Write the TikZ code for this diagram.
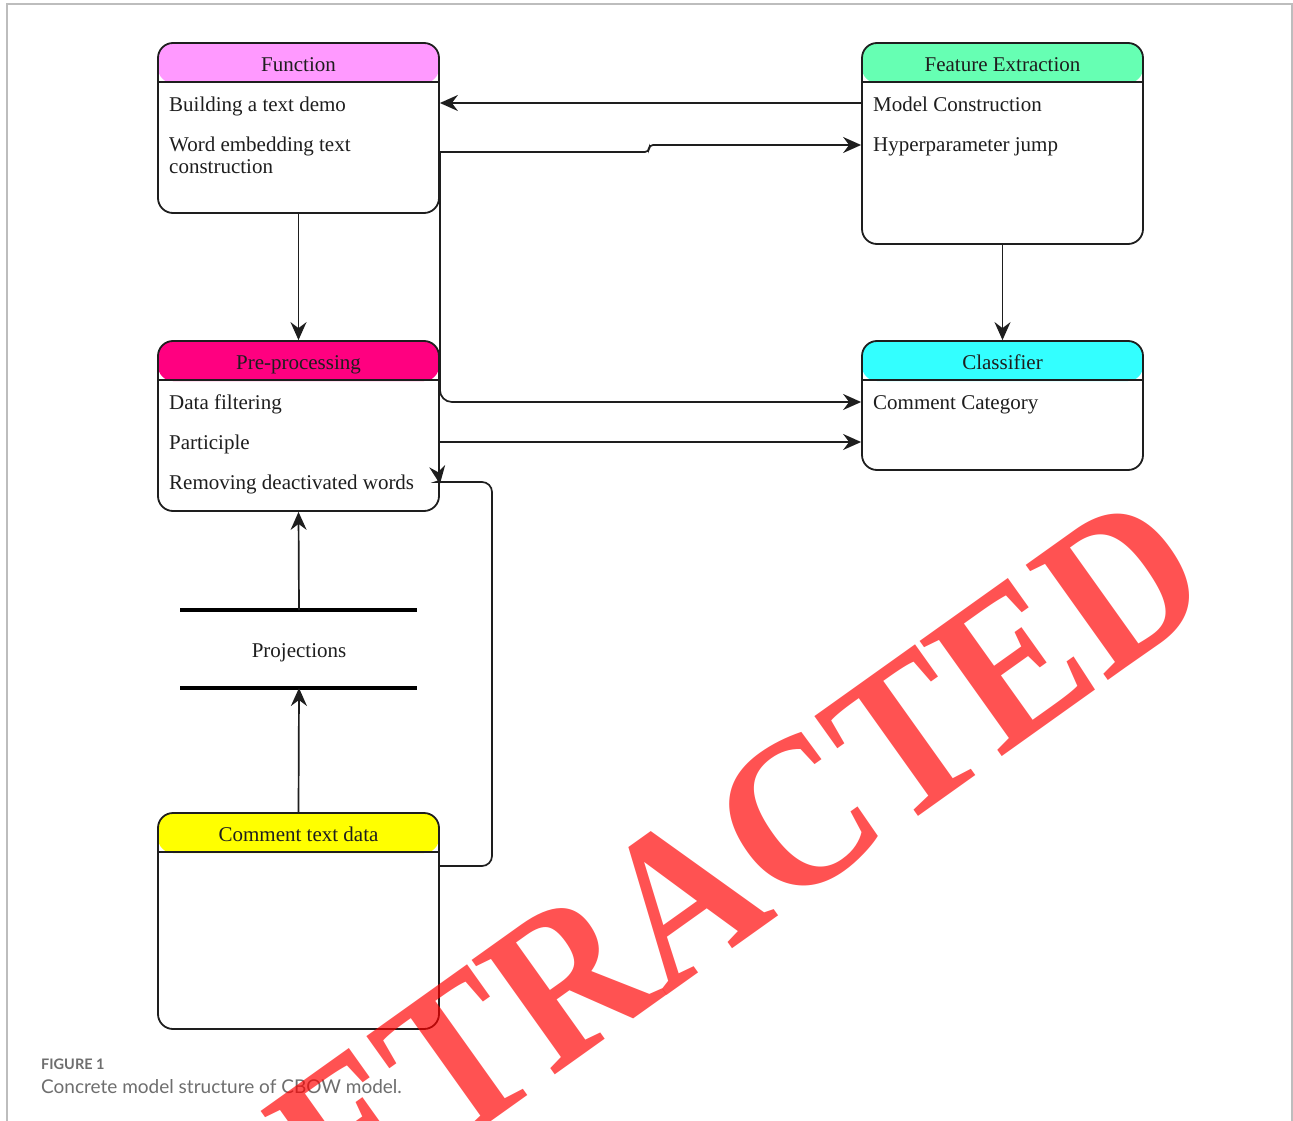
\documentclass[tikz,border=0pt]{standalone}
\usepackage{fontspec}
\setmainfont{Liberation Serif}
\newfontfamily\capfont{Lato}
\usetikzlibrary{arrows.meta}
\definecolor{fnpink}{HTML}{FF99FF}
\definecolor{fegreen}{HTML}{66FFB3}
\definecolor{ppmagenta}{HTML}{FF0080}
\definecolor{clcyan}{HTML}{33FFFF}
\definecolor{ctdyellow}{HTML}{FFFF00}
\definecolor{capgray}{HTML}{6E6E6E}
\definecolor{framegray}{HTML}{BDBDBD}
\definecolor{stampred}{HTML}{FF0000}
\definecolor{ink}{HTML}{1E1E1E}
\begin{document}
\begin{tikzpicture}[x=1pt,y=-1pt,
  every node/.style={font=\fontsize{21}{21.7}\selectfont, inner sep=0pt, text=ink},
  box/.style={draw=ink, line width=1.8pt, rounded corners=15pt, minimum width=281pt},
  head/.style={path picture={\fill[#1] (path picture bounding box.north west) rectangle ([yshift=-40pt]path picture bounding box.north east);}},
  title/.style={anchor=base},
  row/.style={anchor=base west, align=left},
  flow/.style={draw=ink, line width=1.7pt, -{Stealth[length=18pt,width=16pt,inset=6pt]}},
  bar/.style={line width=3.2pt},
  stamp/.style={font=\fontsize{216}{216}\selectfont\bfseries, text=stampred, text opacity=0.68}]
 \clip (0,0) rectangle (1293,1121);
 \fill[white] (0,0) rectangle (1293,1121);
 \draw[framegray, line width=1.5pt] (7,1121) -- (7,4) -- (1292,4) -- (1292,1121);
 \node[box, head=fnpink, minimum height=170pt] (fn) at (298.5,128) {};
 \node[box, head=fegreen, minimum height=201pt] (fe) at (1002.5,143.5) {};
 \node[box, head=ppmagenta, minimum height=170pt] (pp) at (298.5,426) {};
 \node[box, head=clcyan, minimum height=129pt] (cl) at (1002.5,405.5) {};
 \node[box, head=ctdyellow, minimum height=216pt] (ctd) at (298.5,921) {};
 \draw[ink, line width=1.6pt] ([yshift=-40pt]fn.north west) -- ([yshift=-40pt]fn.north east);
 \draw[ink, line width=1.6pt] ([yshift=-40pt]fe.north west) -- ([yshift=-40pt]fe.north east);
 \draw[ink, line width=1.6pt] ([yshift=-40pt]pp.north west) -- ([yshift=-40pt]pp.north east);
 \draw[ink, line width=1.6pt] ([yshift=-40pt]cl.north west) -- ([yshift=-40pt]cl.north east);
 \draw[ink, line width=1.6pt] ([yshift=-40pt]ctd.north west) -- ([yshift=-40pt]ctd.north east);
 \node[title] (fnt) at (298.5,71.7) {Function};
 \node[title] (fet) at (1002.5,71.7) {Feature Extraction};
 \node[title] (ppt) at (298.5,369.5) {Pre-processing};
 \node[title] (clt) at (1002.5,369.5) {Classifier};
 \node[title] (ctdt) at (298.5,841.5) {Comment text data};
 \node[row] (fn1) at (169,111.7) {Building a text demo};
 \node[row] (fn2) at (169,173.4) {Word embedding text\\construction};
 \node[row] (fe1) at (873,111.7) {Model Construction};
 \node[row] (fe2) at (873,151.7) {Hyperparameter jump};
 \node[row] (pp1) at (169,409.7) {Data filtering};
 \node[row] (pp2) at (169,449.7) {Participle};
 \node[row] (pp3) at (169,489.7) {Removing deactivated words};
 \node[row] (cl1) at (873,409.7) {Comment Category};
 \node[title] (proj) at (299,657.3) {Projections};
 \coordinate (pjt) at (299,610);
 \coordinate (pjb) at (299,688);
 \draw[bar] (180,610) -- (417,610);
 \draw[bar] (180,688) -- (417,688);
 \draw[flow] (fe.west |- 0,103) -- (fn.east |- 0,103);
 \draw[flow, rounded corners=4pt] (fn.east |- 0,152) -- (649,152) -- (649,145) -- (fe.west |- 0,145);
 \draw[flow] (fn.south) -- (pp.north);
 \draw[flow] (fe.south) -- (cl.north);
 \draw[flow, rounded corners=12pt] (fn.east |- 0,152) -- (fn.east |- 0,402) -- (cl.west |- 0,402);
 \draw[flow] (pp.east |- 0,442) -- (cl.west |- 0,442);
 \draw[flow] (pjt) -- (pp.south);
 \draw[flow] (ctd.north) -- (pjb);
 \draw[flow, rounded corners=10pt] (ctd.east |- 0,866) -- (492,866) -- (492,482) -- (446,482) [sharp corners] .. controls (440,482) and (439,478) .. (pp.east |- 0,484);
 \node[anchor=west, font=\capfont\bfseries\fontsize{14.5}{16}\selectfont, text=capgray] (fig) at (41,1064) {FIGURE 1};
 \node[anchor=west, font=\capfont\fontsize{19}{20}\selectfont, text=capgray] (capt) at (41,1087) {Concrete model structure of CBOW model.};
 \begin{scope}[shift={(1220,601)}]
  \node[stamp, anchor=base east, rotate=35.5, xscale=0.9] (retracted) at (0,0) {RETRACTED};
 \end{scope}
\end{tikzpicture}
\end{document}
